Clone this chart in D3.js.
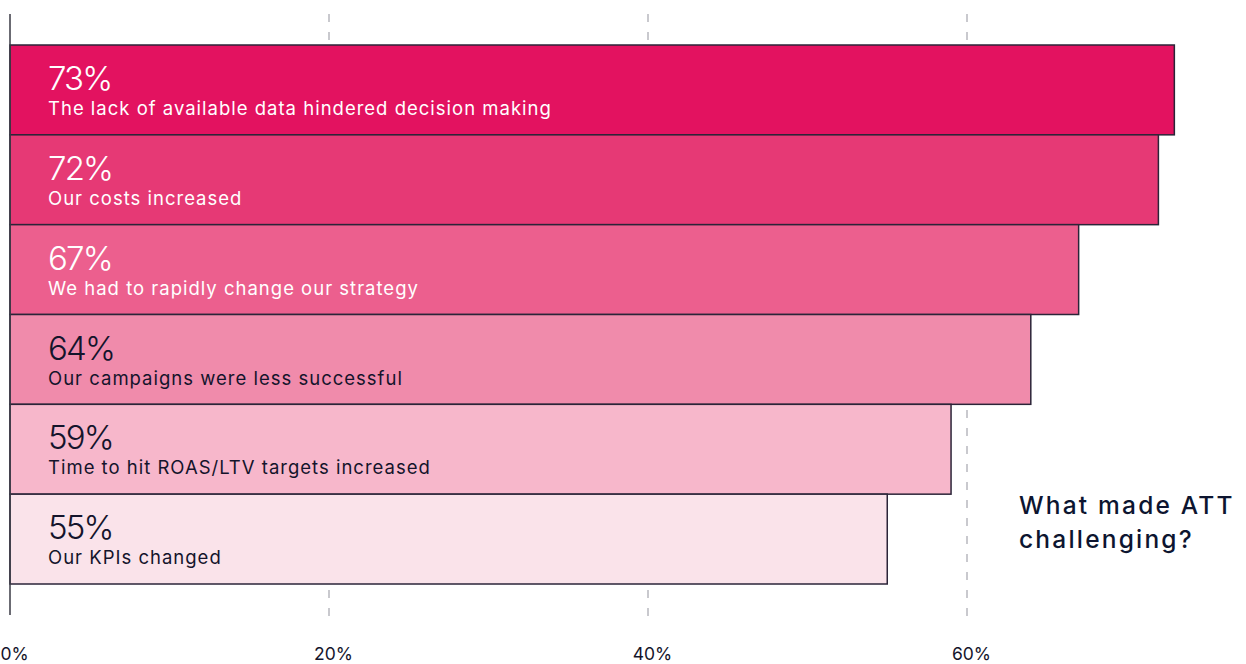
<!DOCTYPE html>
<html>
<head>
<meta charset="utf-8">
<script src="https://cdn.jsdelivr.net/npm/d3@7"></script>
<style>
  html, body { margin: 0; padding: 0; background: #ffffff; }
  svg { display: block; }
  text { font-family: Inter, "Open Sans", sans-serif; }
</style>
</head>
<body>
<svg id="chart" width="1246" height="664"></svg>
<script>
const categories = [
  "The lack of available data hindered decision making",
  "Our costs increased",
  "We had to rapidly change our strategy",
  "Our campaigns were less successful",
  "Time to hit ROAS/LTV targets increased",
  "Our KPIs changed"
];
const values = [73, 72, 67, 64, 59, 55];
const barColors = ["#e31260", "#e63975", "#ec5f8e", "#f08bab", "#f7b7cb", "#fae3ea"];
const labelColors = ["#ffffff", "#ffffff", "#ffffff", "#14142b", "#14142b", "#14142b"];
const tickValues = [0, 20, 40, 60];
const titleLines = ["What made ATT", "challenging?"];

const svg = d3.select("#chart");

const x = d3.scaleLinear().domain([0, 20]).range([10, 329]);
const y = d3.scaleBand().domain(categories).range([45, 584]).padding(0);

// gridlines
svg.append("g")
  .selectAll("line")
  .data(tickValues.filter(d => d > 0))
  .join("line")
  .attr("x1", d => x(d)).attr("x2", d => x(d))
  .attr("y1", 14).attr("y2", 626)
  .attr("stroke", "#c9c9ce")
  .attr("stroke-width", 2)
  .attr("stroke-dasharray", "8,10");

// bars
svg.append("g")
  .selectAll("rect")
  .data(categories)
  .join("rect")
  .attr("x", x(0))
  .attr("y", d => y(d))
  .attr("width", (d, i) => x(values[i]) - x(0))
  .attr("height", y.bandwidth())
  .attr("fill", (d, i) => barColors[i])
  .attr("stroke", "#2b2438")
  .attr("stroke-width", 1.5);

// value labels
svg.append("g")
  .selectAll("text")
  .data(categories)
  .join("text")
  .attr("x", 48)
  .attr("y", d => y(d) + 45)
  .attr("fill", (d, i) => labelColors[i])
  .attr("font-size", 33)
  .attr("font-weight", 300)
  .attr("letter-spacing", -1.8)
  .text((d, i) => values[i] + "%");

// category labels
svg.append("g")
  .selectAll("text")
  .data(categories)
  .join("text")
  .attr("x", 48)
  .attr("y", d => y(d) + 70)
  .attr("fill", (d, i) => labelColors[i])
  .attr("font-size", 18.5)
  .attr("font-weight", 400)
  .attr("letter-spacing", 1)
  .text(d => d);

// left axis line
svg.append("line")
  .attr("x1", x(0)).attr("x2", x(0))
  .attr("y1", 14).attr("y2", 615)
  .attr("stroke", "#3a3a44")
  .attr("stroke-width", 1.5);

// bottom axis tick labels
const xAxis = d3.axisBottom(x).tickValues(tickValues).tickFormat(d => d + "%").tickSize(0).tickPadding(0);
const gx = svg.append("g").attr("transform", "translate(4,648)").call(xAxis);
gx.select(".domain").remove();
gx.selectAll("text")
  .attr("font-size", 17.5)
  .attr("fill", "#14142b")
  .attr("font-family", "Inter, 'Open Sans', sans-serif");

// title
svg.append("text")
  .attr("x", 1019)
  .attr("y", 514)
  .attr("fill", "#0d1530")
  .attr("font-size", 24.5)
  .attr("font-weight", 500)
  .attr("letter-spacing", 2.2)
  .selectAll("tspan")
  .data(titleLines)
  .join("tspan")
  .attr("x", 1019)
  .attr("dy", (d, i) => i === 0 ? 0 : 34)
  .text(d => d);
</script>
</body>
</html>
